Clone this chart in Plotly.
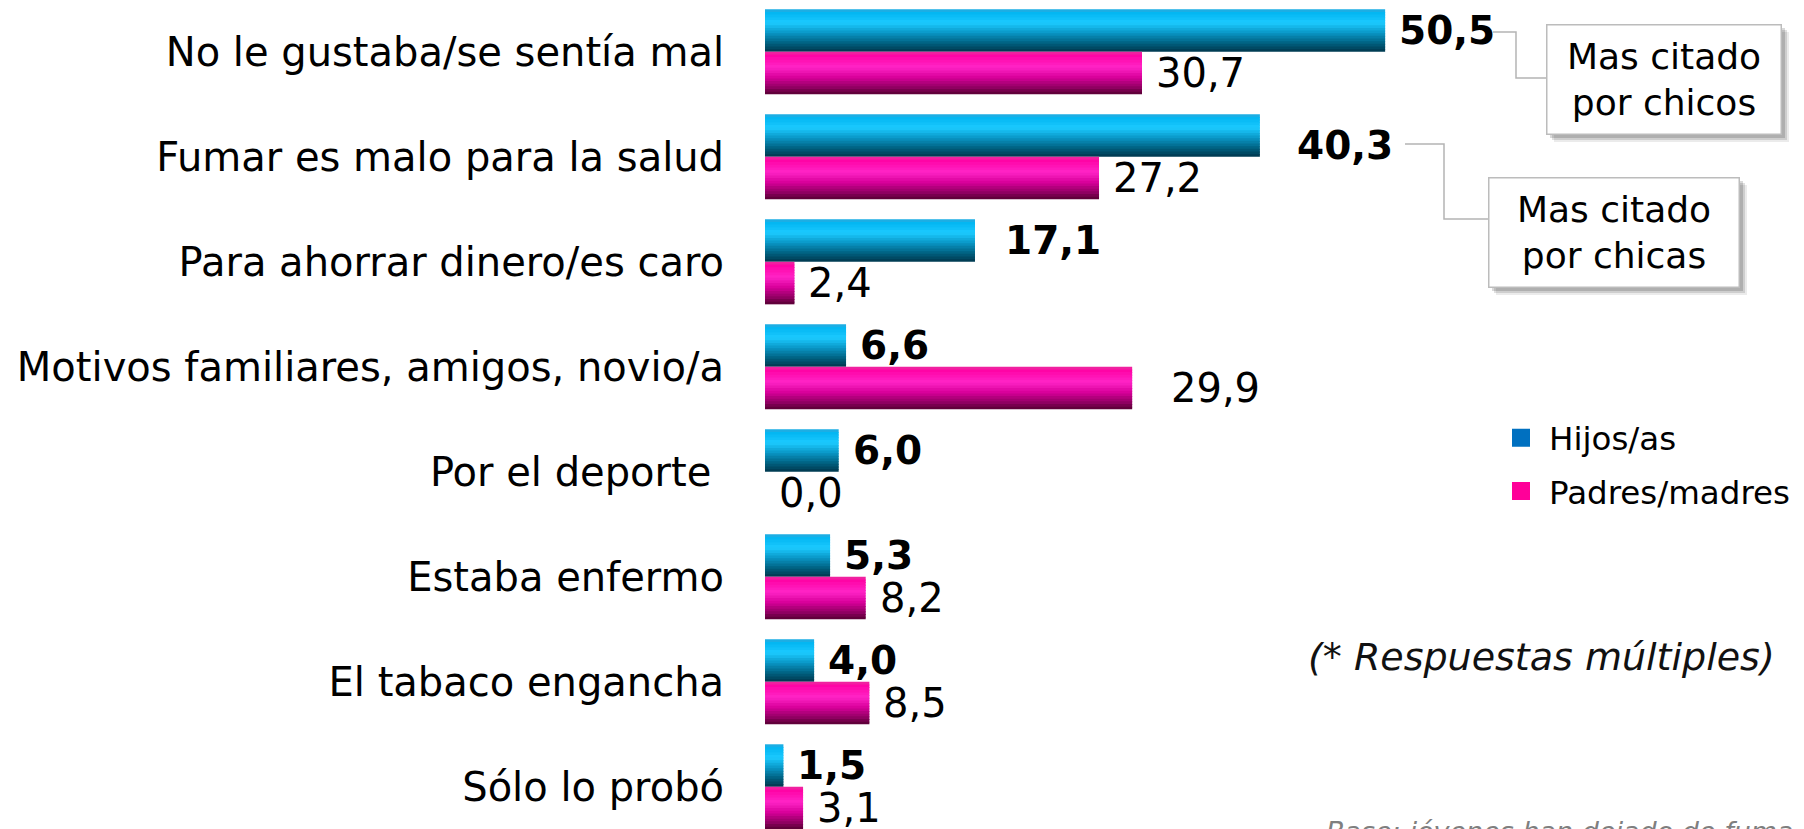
import plotly.graph_objects as go

# ---------------- data ----------------
categories = [
    "No le gustaba/se sentía mal",
    "Fumar es malo para la salud",
    "Para ahorrar dinero/es caro",
    "Motivos familiares, amigos, novio/a",
    "Por el deporte\u00a0",
    "Estaba enfermo",
    "El tabaco engancha",
    "Sólo lo probó",
]
hijos = [50.5, 40.3, 17.1, 6.6, 6.0, 5.3, 4.0, 1.5]
padres = [30.7, 27.2, 2.4, 29.9, 0.0, 8.2, 8.5, 3.1]
series_names = ["Hijos/as", "Padres/madres"]
legend_colors = ["#0070c0", "#ff0099"]
callout_texts = ["Mas citado<br>por chicos", "Mas citado<br>por chicas"]
note_text = "(* Respuestas múltiples)"
base_text = "Base: jóvenes han dejado de fumar"

# ---------------- geometry / style ----------------
W, H = 1804, 829
OFF = 8           # page body margin
X0 = 765 - OFF    # left edge of plot area (px, figure coords)
PXU = 12.28       # px per unit on x
XMAX = (W - X0) / PXU
PITCH = 105.0     # px per category
C0 = 51.8 - OFF   # px centre of first category
Y_TOP = -C0 / PITCH
Y_BOT = Y_TOP + H / PITCH
BAR = 0.405       # bar thickness in category units
N = 16            # gradient strips
FONT = "DejaVu Sans"

blue_stops = [(0.0, "#3aa8d6"), (0.06, "#00b4f0"), (0.32, "#1ccaff"),
              (0.55, "#0a98c8"), (0.8, "#006080"), (1.0, "#00364c")]
pink_stops = [(0.0, "#e0449e"), (0.06, "#ff00a2"), (0.36, "#ff24c6"),
              (0.6, "#d8009a"), (0.84, "#900062"), (1.0, "#560032")]


def hex2rgb(h):
    h = h.lstrip("#")
    return tuple(int(h[i:i + 2], 16) for i in (0, 2, 4))


def grad(stops, t):
    for (t0, c0), (t1, c1) in zip(stops[:-1], stops[1:]):
        if t <= t1:
            f = 0 if t1 == t0 else (t - t0) / (t1 - t0)
            a, b = hex2rgb(c0), hex2rgb(c1)
            return "rgb(%d,%d,%d)" % tuple(round(a[i] + (b[i] - a[i]) * f) for i in range(3))
    return stops[-1][1]


def px(xp):
    """reference-screen x pixel -> paper x"""
    return (xp - OFF - X0) / (W - X0)


def py(yp):
    """reference-screen y pixel -> paper y"""
    return 1 - (yp - OFF) / H


fig = go.Figure()

for vals, stops, base in [(hijos, blue_stops, -BAR), (padres, pink_stops, 0.0)]:
    step = BAR / N
    for k in range(N):
        t = (k + 0.5) / N
        w = step * (1.35 if k < N - 1 else 1.0)
        fig.add_bar(
            y=categories, x=vals, orientation="h",
            offset=base + k * step, width=w,
            marker=dict(color=grad(stops, t), line=dict(width=0)),
            showlegend=False, hoverinfo="skip",
        )

# legend entries
for i, (name, col) in enumerate(zip(series_names, legend_colors)):
    fig.add_scatter(
        x=[None], y=[None], mode="markers", name=name,
        marker=dict(symbol="square", size=16, color=col, line=dict(color=col, width=2)),
        legendgroup="g%d" % i,
    )

annotations = []
# value labels
label_dx_blue = {1: 23, 2: 16}
label_dy_blue = {1: -10}
label_dx_pink = {3: 25}
for i, v in enumerate(hijos):
    annotations.append(dict(
        x=v, y=i - BAR / 2, xref="x", yref="y", text="<b>%s</b>" % f"{v:.1f}".replace(".", ","),
        showarrow=False, xanchor="left", yanchor="middle",
        xshift=12 + label_dx_blue.get(i, 0), yshift=label_dy_blue.get(i, 0),
        font=dict(family=FONT, size=39, color="black"),
    ))
for i, v in enumerate(padres):
    annotations.append(dict(
        x=v, y=i + BAR / 2, xref="x", yref="y", text=f"{v:.1f}".replace(".", ","),
        showarrow=False, xanchor="left", yanchor="middle",
        xshift=12 + label_dx_pink.get(i, 0),
        font=dict(family=FONT, size=40, color="black"),
    ))

# callout boxes (reference pixel coords)
boxes = [(1546, 24, 235, 110), (1488, 177, 251, 110)]
shapes = []
for (bx, by, bw, bh), txt in zip(boxes, callout_texts):
    for off, alpha in [(8, 0.08), (6, 0.12), (4, 0.15)]:
        shapes.append(dict(type="rect", xref="paper", yref="paper",
                           x0=px(bx + off), x1=px(bx + bw + off),
                           y0=py(by + bh + off), y1=py(by + off),
                           fillcolor="rgba(0,0,0,%g)" % alpha, line=dict(width=0),
                           layer="above"))
    annotations.append(dict(
        x=px(bx + bw / 2), y=py(by + bh / 2), xref="paper", yref="paper",
        text=txt, showarrow=False, xanchor="center", yanchor="middle",
        width=bw - 2, height=bh - 2, borderpad=0, borderwidth=1.5,
        bordercolor="#bcbcbc", bgcolor="white", align="center",
        font=dict(family=FONT, size=36, color="black"),
    ))


def pth(points):
    s = "M %f %f" % (px(points[0][0]), py(points[0][1]))
    for a, b in points[1:]:
        s += " L %f %f" % (px(a), py(b))
    return s


for pts in [[(1493, 32), (1516, 32), (1516, 78), (1546, 78)],
            [(1405, 144), (1444, 144), (1444, 219), (1488, 219)]]:
    shapes.append(dict(type="path", xref="paper", yref="paper", path=pth(pts),
                       line=dict(color="#b4b4b4", width=1.5), layer="above"))

# left edge decoration
shapes.append(dict(type="rect", xref="paper", yref="paper", x0=px(0), x1=px(3.5),
                   y0=0, y1=1.02, fillcolor="#e2e8f3", line=dict(width=0)))
shapes.append(dict(type="line", xref="paper", yref="paper", x0=px(3.8), x1=px(3.8),
                   y0=0, y1=1.02, line=dict(color="#cfcff2", width=1.2)))
shapes.append(dict(type="rect", xref="paper", yref="paper", x0=px(0), x1=px(3),
                   y0=py(22), y1=1.02, fillcolor="#4f86c0", line=dict(width=0)))

annotations.append(dict(
    x=px(1541), y=py(657), xref="paper", yref="paper", text="<i>%s</i>" % note_text,
    showarrow=False, xanchor="center", yanchor="middle",
    font=dict(family=FONT, size=38, color="#111111"),
))
annotations.append(dict(
    x=px(1324), y=py(831), xref="paper", yref="paper", text="<i>%s</i>" % base_text,
    showarrow=False, xanchor="left", yanchor="middle",
    font=dict(family=FONT, size=27, color="#7f7f7f"),
))

fig.update_layout(
    width=W, height=H,
    margin=dict(l=X0, r=0, t=0, b=0, pad=0),
    paper_bgcolor="white", plot_bgcolor="white",
    barmode="overlay",
    font=dict(family=FONT, size=40, color="black"),
    xaxis=dict(range=[0, XMAX], visible=False, fixedrange=True),
    yaxis=dict(type="category", categoryorder="array", categoryarray=categories,
               range=[Y_BOT, Y_TOP], showgrid=False, zeroline=False, showline=False,
               ticks="", ticklabelstandoff=40,
               tickfont=dict(family=FONT, size=40, color="black"), fixedrange=True),
    showlegend=True,
    legend=dict(x=px(1493), y=py(410), xanchor="left", yanchor="top",
                font=dict(family=FONT, size=32.5, color="black"),
                itemwidth=46,
                tracegroupgap=8, bgcolor="rgba(0,0,0,0)", itemclick=False),
    annotations=annotations,
    shapes=shapes,
)

fig.write_html("out.html")
